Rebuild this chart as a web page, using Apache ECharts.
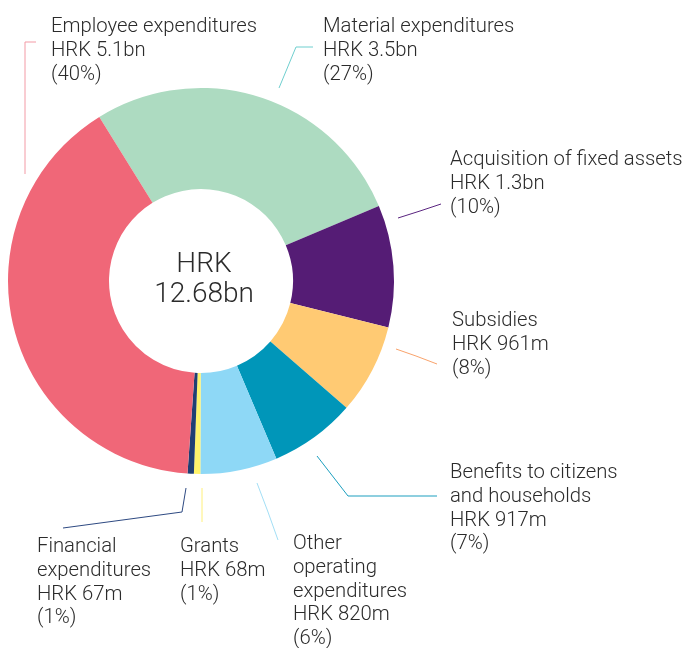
<!DOCTYPE html>
<html>
<head>
<meta charset="utf-8">
<script src="https://cdn.jsdelivr.net/npm/echarts@6/dist/echarts.min.js"></script>
<style>
html,body{margin:0;padding:0;background:#fff;}
#chart{width:686px;height:648px;}
</style>
</head>
<body>
<div id="chart"></div>
<script>
// ---- data ----
const categories = ['Material expenditures', 'Acquisition of fixed assets', 'Subsidies', 'Benefits to citizens\nand households', 'Other\noperating\nexpenditures', 'Grants', 'Financial\nexpenditures', 'Employee expenditures'];
const valuesHRKm = [3500, 1300, 961, 917, 820, 68, 67, 5100];
const amountLabels = ['HRK 3.5bn', 'HRK 1.3bn', 'HRK 961m', 'HRK 917m', 'HRK 820m', 'HRK 68m', 'HRK 67m', 'HRK 5.1bn'];
const percentLabels = ['27%', '10%', '8%', '7%', '6%', '1%', '1%', '40%'];
const totalLabel = ['HRK', '12.68bn'];

// ---- styles ----
const sliceColors = ['#ADDBC1', '#551C75', '#FFCA73', '#0096B9', '#8ED8F6', '#FFF36B', '#203F73', '#F06778'];
const lineColors = ['#6FCFCF', '#5A2480', '#F9A36C', '#1C9FBF', '#A3DFF6', '#FFF07A', '#2E4A82', '#F39AA5'];
// label placement (top-left of text) and leader line points
const labelPlacement = [
  {x: 323, y: 15,  line: [[279, 88], [296, 47], [313, 47]]},
  {x: 450, y: 148, line: [[398, 218], [420, 211], [441, 204]]},
  {x: 452, y: 309, line: [[396, 349], [416, 356], [437, 364]]},
  {x: 450, y: 461, line: [[317, 456], [348, 496], [437, 496]]},
  {x: 293, y: 532, line: [[257, 483], [268, 512], [278, 540]]},
  {x: 180, y: 535, line: [[202, 488], [202, 505], [202, 522]]},
  {x: 37,  y: 535, line: [[186, 488], [182, 512], [63, 528]]},
  {x: 51,  y: 15,  line: [[36, 42], [25, 42], [25, 174]]}
];

const FONT = 'Roboto';
const chart = echarts.init(document.getElementById('chart'), null, {renderer: 'canvas'});

const data = categories.map((name, i) => ({
  name: name,
  value: valuesHRKm[i],
  itemStyle: {color: sliceColors[i]},
  labelLine: {lineStyle: {color: lineColors[i], width: 1}},
  label: {formatter: name + '\n' + amountLabels[i] + '\n(' + percentLabels[i] + ')'}
}));

chart.setOption({
  animation: false,
  backgroundColor: '#ffffff',
  series: [{
    type: 'pie',
    center: [201, 281],
    radius: [92, 193],
    startAngle: 121.8,
    clockwise: true,
    avoidLabelOverlap: false,
    data: data,
    label: {
      show: true,
      position: 'outside',
      fontFamily: FONT,
      fontWeight: 300,
      fontSize: 20.3,
      lineHeight: 23.8,
      color: '#2b2b2b',
      align: 'left'
    },
    labelLine: {show: true, length: 10, length2: 10, smooth: false},
    labelLayout: function (params) {
      const p = labelPlacement[params.dataIndex];
      return {
        x: p.x, y: p.y,
        align: 'left',
        verticalAlign: 'top',
        labelLinePoints: p.line
      };
    },
    emphasis: {disabled: true}
  }],
  graphic: [
    {type: 'text', x: 204, y: 265, style: {text: totalLabel[0], font: '300 28px ' + FONT, fill: '#2b2b2b', textAlign: 'center', textVerticalAlign: 'middle'}},
    {type: 'text', x: 204, y: 295, style: {text: totalLabel[1], font: '300 28px ' + FONT, fill: '#2b2b2b', textAlign: 'center', textVerticalAlign: 'middle'}}
  ]
});
</script>
</body>
</html>
